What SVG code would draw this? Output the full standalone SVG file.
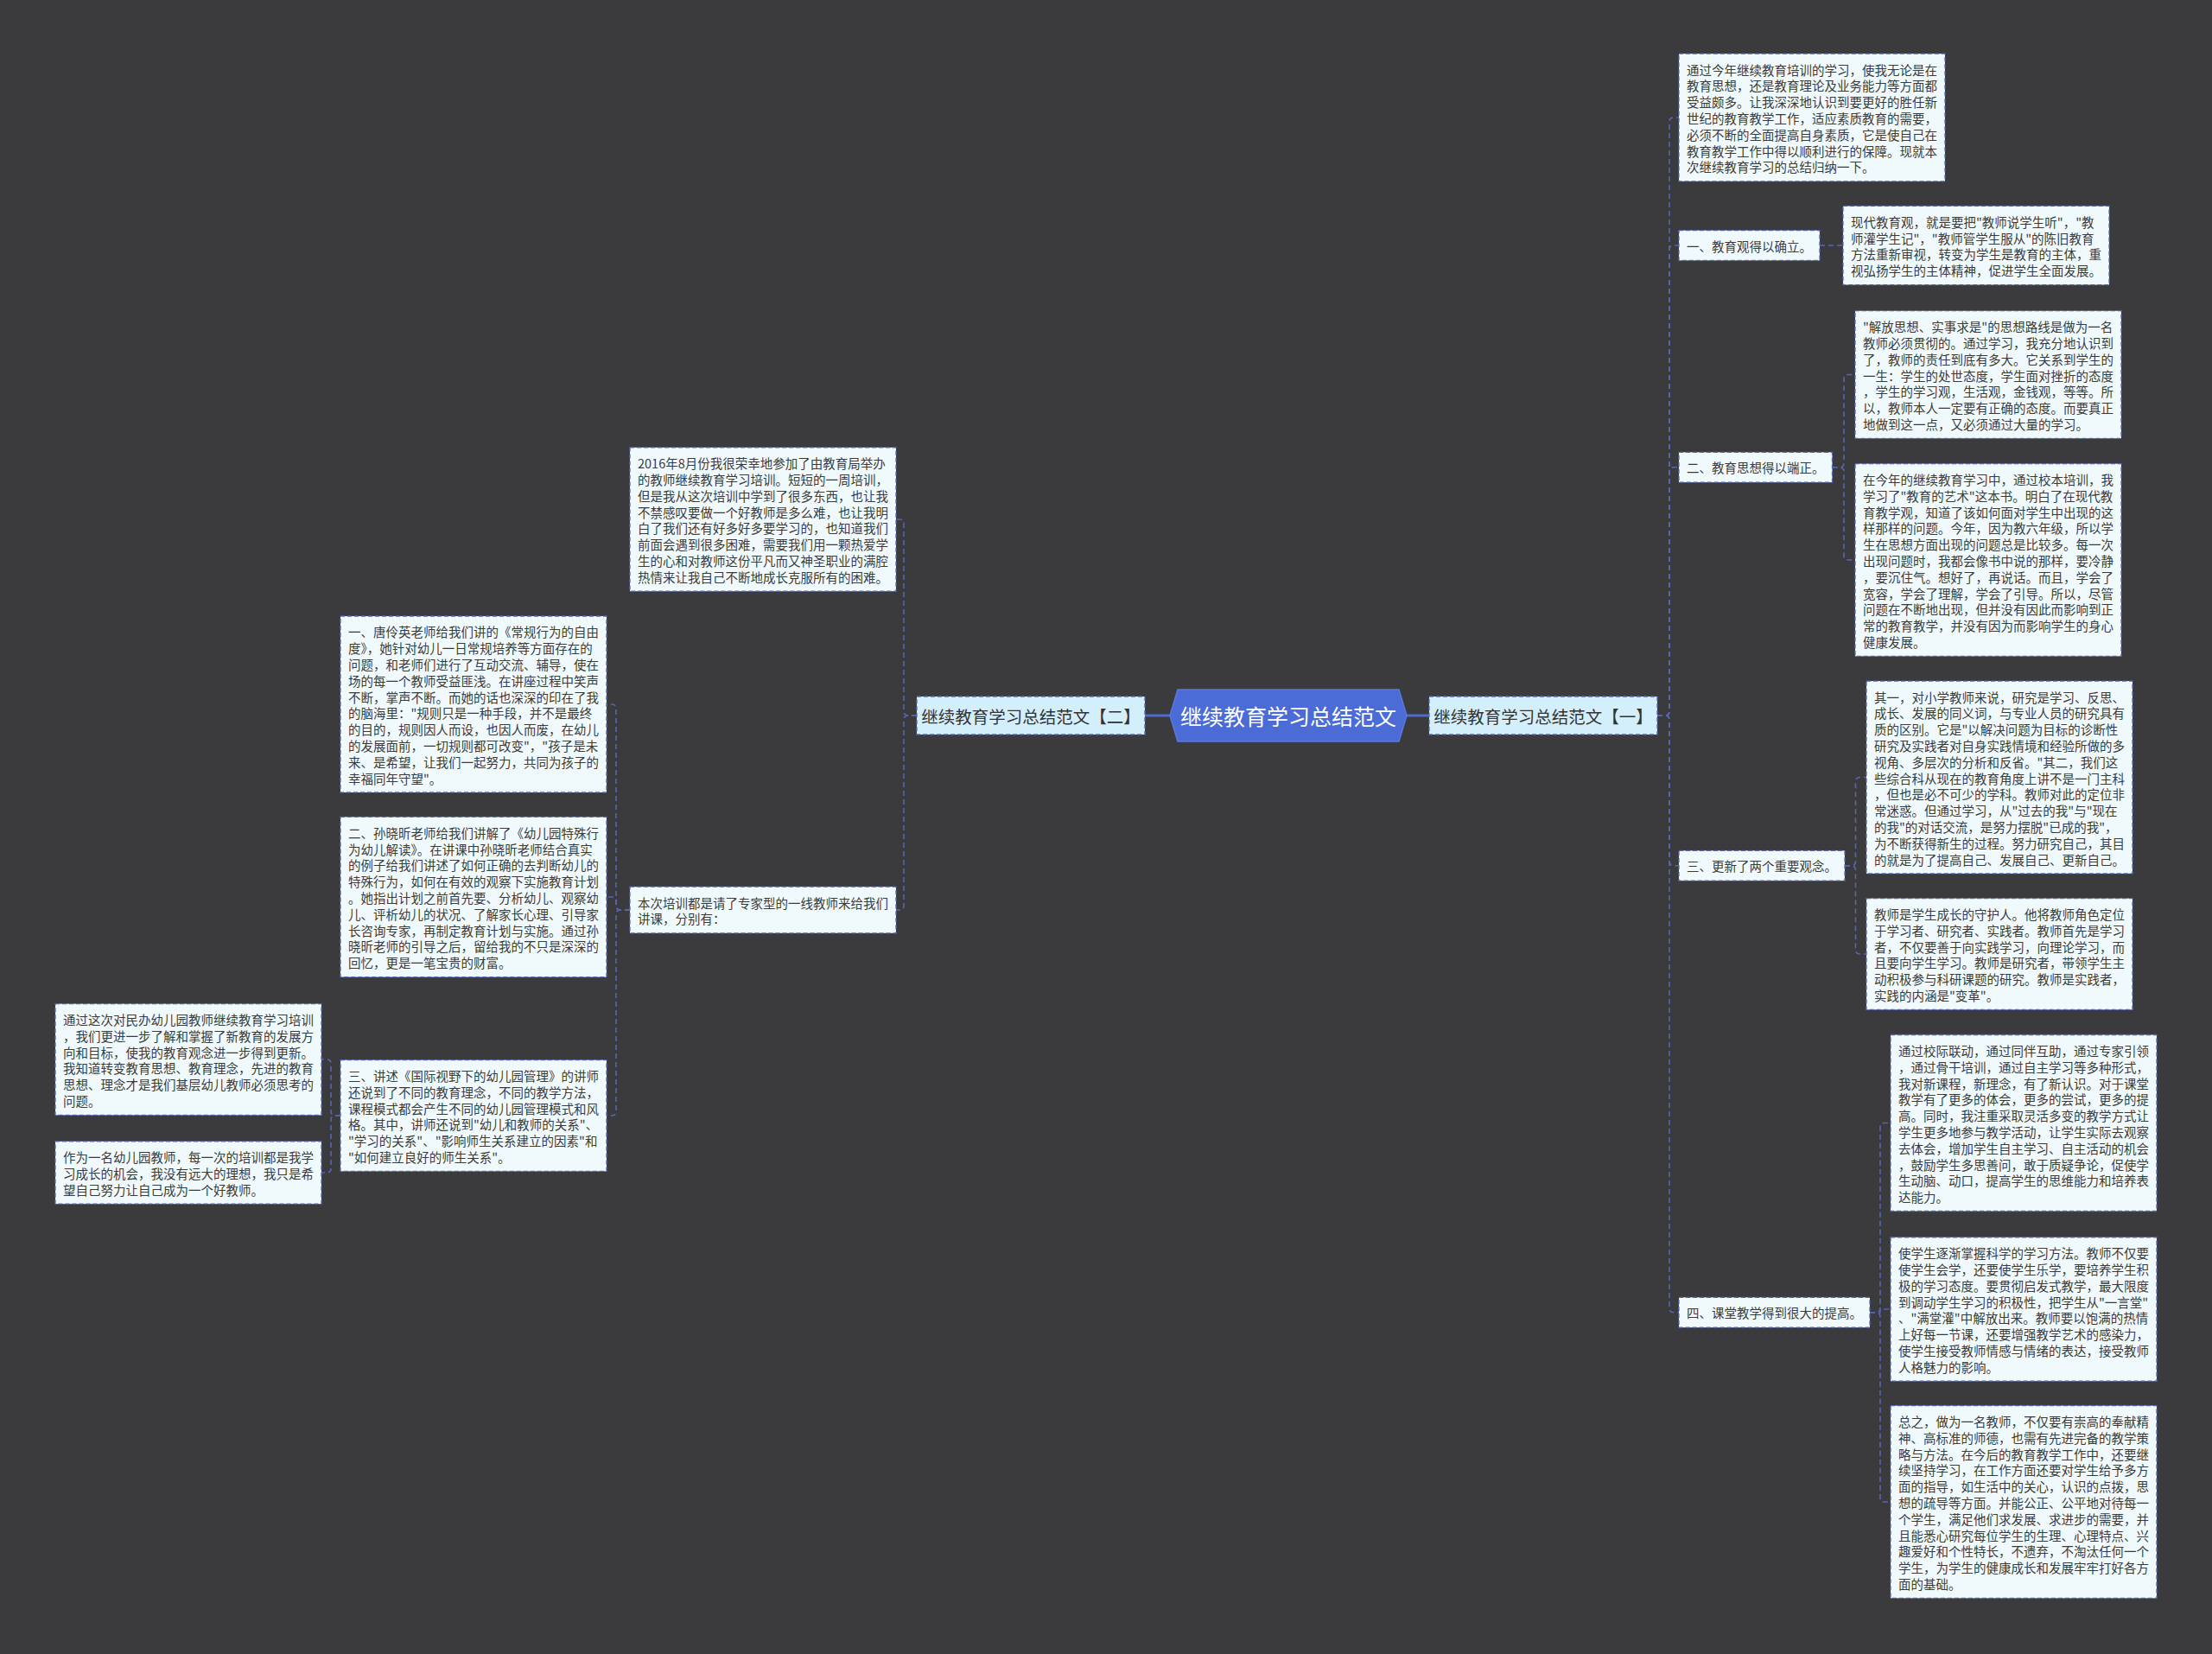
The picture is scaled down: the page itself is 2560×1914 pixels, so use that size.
<svg xmlns="http://www.w3.org/2000/svg" width="2560" height="1914" viewBox="0 0 2560 1914">
<style>
text{font-family:"Noto Sans CJK SC","Noto Sans",sans-serif;dominant-baseline:central;}
.box{fill:#f0fafd;stroke:#5567b4;stroke-width:1.3;stroke-dasharray:5 3;}
.t{font-size:14.5px;fill:#3a3a3a;}
.l1{fill:#d3effb;stroke:#5567b4;stroke-width:1.3;stroke-dasharray:5 3;}
.l1t{font-size:19.5px;fill:#333;text-anchor:middle;}
.ct{font-size:25px;fill:#ffffff;text-anchor:middle;}
.dash{fill:none;stroke:#5567b4;stroke-width:1.6;stroke-dasharray:6 4;}
.solid{fill:none;stroke:#4e6cd0;stroke-width:3;}
</style>
<rect width="2560" height="1914" fill="#3b3a3c"/>
<g id="connectors">
<path class="solid" d="M1626 828 H1654"/>
<path class="solid" d="M1325 828 H1355"/>
<path class="dash" d="M1918 828 H1927 Q1932 828 1932 823 V141 Q1932 136 1937 136 H1943"/>
<path class="dash" d="M1918 828 H1927 Q1932 828 1932 823 V289 Q1932 284 1937 284 H1943"/>
<path class="dash" d="M1918 828 H1927 Q1932 828 1932 823 V545.75 Q1932 540.75 1937 540.75 H1943"/>
<path class="dash" d="M1918 828 H1927 Q1932 828 1932 833 V996.75 Q1932 1001.75 1937 1001.75 H1943"/>
<path class="dash" d="M1918 828 H1927 Q1932 828 1932 833 V1513.75 Q1932 1518.75 1937 1518.75 H1943"/>
<path class="dash" d="M2106 284 H2133"/>
<path class="dash" d="M2120.5 540.75 H2129 Q2134 540.75 2134 535.75 V438.5 Q2134 433.5 2139 433.5 H2147"/>
<path class="dash" d="M2120.5 540.75 H2129 Q2134 540.75 2134 545.75 V643 Q2134 648 2139 648 H2147"/>
<path class="dash" d="M2135 1001.75 H2142.5 Q2147.5 1001.75 2147.5 996.75 V904.5 Q2147.5 899.5 2152.5 899.5 H2160"/>
<path class="dash" d="M2135 1001.75 H2142.5 Q2147.5 1001.75 2147.5 1006.75 V1099 Q2147.5 1104 2152.5 1104 H2160"/>
<path class="dash" d="M2164 1518.75 H2171 Q2176 1518.75 2176 1513.75 V1304.5 Q2176 1299.5 2181 1299.5 H2188"/>
<path class="dash" d="M2164 1518.75 H2176 V1515 H2188"/>
<path class="dash" d="M2164 1518.75 H2171 Q2176 1518.75 2176 1523.75 V1733 Q2176 1738 2181 1738 H2188"/>
<path class="dash" d="M1061 828 H1051 Q1046 828 1046 823 V606 Q1046 601 1041 601 H1037"/>
<path class="dash" d="M1061 828 H1051 Q1046 828 1046 833 V1048 Q1046 1053 1041 1053 H1037"/>
<path class="dash" d="M729 1053 H718 Q713 1053 713 1048 V820 Q713 815 708 815 H702"/>
<path class="dash" d="M729 1053 H718 Q713 1053 713 1048 V1043 Q713 1038 708 1038 H702"/>
<path class="dash" d="M729 1053 H718 Q713 1053 713 1058 V1286 Q713 1291 708 1291 H702"/>
<path class="dash" d="M394 1291 H388 Q383 1291 383 1286 V1231 Q383 1226 378 1226 H372"/>
<path class="dash" d="M394 1291 H388 Q383 1291 383 1296 V1352 Q383 1357 378 1357 H372"/>
</g>
<g id="center">
<polygon points="1354,828 1363,798 1619,798 1628,828 1619,858 1363,858" fill="#4b6bd6" stroke="#5a78e0" stroke-width="1.5"/>
<text class="ct" x="1491" y="828">继续教育学习总结范文</text>
</g>
<g id="branch1">
<rect class="l1" x="1654" y="806" width="264" height="44"/>
<text class="l1t" x="1786" y="828">继续教育学习总结范文【一】</text>
</g>
<g id="branch2">
<rect class="l1" x="1061" y="806" width="264" height="44"/>
<text class="l1t" x="1193" y="828">继续教育学习总结范文【二】</text>
</g>
<g id="n1">
<rect class="box" x="1943" y="62.2" width="308" height="147.6"/>
<text class="t" x="1952" y="79.6"><tspan x="1952" dy="0">通过今年继续教育培训的学习，使我无论是在</tspan><tspan x="1952" dy="18.8">教育思想，还是教育理论及业务能力等方面都</tspan><tspan x="1952" dy="18.8">受益颇多。让我深深地认识到要更好的胜任新</tspan><tspan x="1952" dy="18.8">世纪的教育教学工作，适应素质教育的需要，</tspan><tspan x="1952" dy="18.8">必须不断的全面提高自身素质，它是使自己在</tspan><tspan x="1952" dy="18.8">教育教学工作中得以顺利进行的保障。现就本</tspan><tspan x="1952" dy="18.8">次继续教育学习的总结归纳一下。</tspan></text>
</g>
<g id="n2">
<rect class="box" x="1943" y="266.6" width="163" height="34.8"/>
<text class="t" x="1952" y="284">一、教育观得以确立。</text>
</g>
<g id="n2c">
<rect class="box" x="2133" y="238.4" width="308" height="91.2"/>
<text class="t" x="2142" y="255.8"><tspan x="2142" dy="0">现代教育观，就是要把"教师说学生听"，"教</tspan><tspan x="2142" dy="18.8">师灌学生记"，"教师管学生服从"的陈旧教育</tspan><tspan x="2142" dy="18.8">方法重新审视，转变为学生是教育的主体，重</tspan><tspan x="2142" dy="18.8">视弘扬学生的主体精神，促进学生全面发展。</tspan></text>
</g>
<g id="n3">
<rect class="box" x="1943" y="523.35" width="177.5" height="34.8"/>
<text class="t" x="1952" y="540.75">二、教育思想得以端正。</text>
</g>
<g id="n3a">
<rect class="box" x="2147" y="359.7" width="308" height="147.6"/>
<text class="t" x="2156" y="377.1"><tspan x="2156" dy="0">"解放思想、实事求是"的思想路线是做为一名</tspan><tspan x="2156" dy="18.8">教师必须贯彻的。通过学习，我充分地认识到</tspan><tspan x="2156" dy="18.8">了，教师的责任到底有多大。它关系到学生的</tspan><tspan x="2156" dy="18.8">一生：学生的处世态度，学生面对挫折的态度</tspan><tspan x="2156" dy="18.8">，学生的学习观，生活观，金钱观，等等。所</tspan><tspan x="2156" dy="18.8">以，教师本人一定要有正确的态度。而要真正</tspan><tspan x="2156" dy="18.8">地做到这一点，又必须通过大量的学习。</tspan></text>
</g>
<g id="n3b">
<rect class="box" x="2147" y="536.6" width="308" height="222.8"/>
<text class="t" x="2156" y="554"><tspan x="2156" dy="0">在今年的继续教育学习中，通过校本培训，我</tspan><tspan x="2156" dy="18.8">学习了"教育的艺术"这本书。明白了在现代教</tspan><tspan x="2156" dy="18.8">育教学观，知道了该如何面对学生中出现的这</tspan><tspan x="2156" dy="18.8">样那样的问题。今年，因为教六年级，所以学</tspan><tspan x="2156" dy="18.8">生在思想方面出现的问题总是比较多。每一次</tspan><tspan x="2156" dy="18.8">出现问题时，我都会像书中说的那样，要冷静</tspan><tspan x="2156" dy="18.8">，要沉住气。想好了，再说话。而且，学会了</tspan><tspan x="2156" dy="18.8">宽容，学会了理解，学会了引导。所以，尽管</tspan><tspan x="2156" dy="18.8">问题在不断地出现，但并没有因此而影响到正</tspan><tspan x="2156" dy="18.8">常的教育教学，并没有因为而影响学生的身心</tspan><tspan x="2156" dy="18.8">健康发展。</tspan></text>
</g>
<g id="n4">
<rect class="box" x="1943" y="984.35" width="192" height="34.8"/>
<text class="t" x="1952" y="1001.75">三、更新了两个重要观念。</text>
</g>
<g id="n4a">
<rect class="box" x="2160" y="788.1" width="308" height="222.8"/>
<text class="t" x="2169" y="805.5"><tspan x="2169" dy="0">其一，对小学教师来说，研究是学习、反思、</tspan><tspan x="2169" dy="18.8">成长、发展的同义词，与专业人员的研究具有</tspan><tspan x="2169" dy="18.8">质的区别。它是"以解决问题为目标的诊断性</tspan><tspan x="2169" dy="18.8">研究及实践者对自身实践情境和经验所做的多</tspan><tspan x="2169" dy="18.8">视角、多层次的分析和反省。"其二，我们这</tspan><tspan x="2169" dy="18.8">些综合科从现在的教育角度上讲不是一门主科</tspan><tspan x="2169" dy="18.8">，但也是必不可少的学科。教师对此的定位非</tspan><tspan x="2169" dy="18.8">常迷惑。但通过学习，从"过去的我"与"现在</tspan><tspan x="2169" dy="18.8">的我"的对话交流，是努力摆脱"已成的我"，</tspan><tspan x="2169" dy="18.8">为不断获得新生的过程。努力研究自己，其目</tspan><tspan x="2169" dy="18.8">的就是为了提高自己、发展自己、更新自己。</tspan></text>
</g>
<g id="n4b">
<rect class="box" x="2160" y="1039.6" width="308" height="128.8"/>
<text class="t" x="2169" y="1057"><tspan x="2169" dy="0">教师是学生成长的守护人。他将教师角色定位</tspan><tspan x="2169" dy="18.8">于学习者、研究者、实践者。教师首先是学习</tspan><tspan x="2169" dy="18.8">者，不仅要善于向实践学习，向理论学习，而</tspan><tspan x="2169" dy="18.8">且要向学生学习。教师是研究者，带领学生主</tspan><tspan x="2169" dy="18.8">动积极参与科研课题的研究。教师是实践者，</tspan><tspan x="2169" dy="18.8">实践的内涵是"变革"。</tspan></text>
</g>
<g id="n5">
<rect class="box" x="1943" y="1501.35" width="221" height="34.8"/>
<text class="t" x="1952" y="1518.75">四、课堂教学得到很大的提高。</text>
</g>
<g id="n5a">
<rect class="box" x="2188" y="1197.5" width="308" height="204"/>
<text class="t" x="2197" y="1214.9"><tspan x="2197" dy="0">通过校际联动，通过同伴互助，通过专家引领</tspan><tspan x="2197" dy="18.8">，通过骨干培训，通过自主学习等多种形式，</tspan><tspan x="2197" dy="18.8">我对新课程，新理念，有了新认识。对于课堂</tspan><tspan x="2197" dy="18.8">教学有了更多的体会，更多的尝试，更多的提</tspan><tspan x="2197" dy="18.8">高。同时，我注重采取灵活多变的教学方式让</tspan><tspan x="2197" dy="18.8">学生更多地参与教学活动，让学生实际去观察</tspan><tspan x="2197" dy="18.8">去体会，增加学生自主学习、自主活动的机会</tspan><tspan x="2197" dy="18.8">，鼓励学生多思善问，敢于质疑争论，促使学</tspan><tspan x="2197" dy="18.8">生动脑、动口，提高学生的思维能力和培养表</tspan><tspan x="2197" dy="18.8">达能力。</tspan></text>
</g>
<g id="n5b">
<rect class="box" x="2188" y="1431.8" width="308" height="166.4"/>
<text class="t" x="2197" y="1449.2"><tspan x="2197" dy="0">使学生逐渐掌握科学的学习方法。教师不仅要</tspan><tspan x="2197" dy="18.8">使学生会学，还要使学生乐学，要培养学生积</tspan><tspan x="2197" dy="18.8">极的学习态度。要贯彻启发式教学，最大限度</tspan><tspan x="2197" dy="18.8">到调动学生学习的积极性，把学生从"一言堂"</tspan><tspan x="2197" dy="18.8">、"满堂灌"中解放出来。教师要以饱满的热情</tspan><tspan x="2197" dy="18.8">上好每一节课，还要增强教学艺术的感染力，</tspan><tspan x="2197" dy="18.8">使学生接受教师情感与情绪的表达，接受教师</tspan><tspan x="2197" dy="18.8">人格魅力的影响。</tspan></text>
</g>
<g id="n5c">
<rect class="box" x="2188" y="1626.6" width="308" height="222.8"/>
<text class="t" x="2197" y="1644"><tspan x="2197" dy="0">总之，做为一名教师，不仅要有崇高的奉献精</tspan><tspan x="2197" dy="18.8">神、高标准的师德，也需有先进完备的教学策</tspan><tspan x="2197" dy="18.8">略与方法。在今后的教育教学工作中，还要继</tspan><tspan x="2197" dy="18.8">续坚持学习，在工作方面还要对学生给予多方</tspan><tspan x="2197" dy="18.8">面的指导，如生活中的关心，认识的点拨，思</tspan><tspan x="2197" dy="18.8">想的疏导等方面。并能公正、公平地对待每一</tspan><tspan x="2197" dy="18.8">个学生，满足他们求发展、求进步的需要，并</tspan><tspan x="2197" dy="18.8">且能悉心研究每位学生的生理、心理特点、兴</tspan><tspan x="2197" dy="18.8">趣爱好和个性特长，不遗弃，不淘汰任何一个</tspan><tspan x="2197" dy="18.8">学生，为学生的健康成长和发展牢牢打好各方</tspan><tspan x="2197" dy="18.8">面的基础。</tspan></text>
</g>
<g id="l1">
<rect class="box" x="729" y="517.8" width="308" height="166.4"/>
<text class="t" x="738" y="535.2"><tspan x="738" dy="0">2016年8月份我很荣幸地参加了由教育局举办</tspan><tspan x="738" dy="18.8">的教师继续教育学习培训。短短的一周培训，</tspan><tspan x="738" dy="18.8">但是我从这次培训中学到了很多东西，也让我</tspan><tspan x="738" dy="18.8">不禁感叹要做一个好教师是多么难，也让我明</tspan><tspan x="738" dy="18.8">白了我们还有好多好多要学习的，也知道我们</tspan><tspan x="738" dy="18.8">前面会遇到很多困难，需要我们用一颗热爱学</tspan><tspan x="738" dy="18.8">生的心和对教师这份平凡而又神圣职业的满腔</tspan><tspan x="738" dy="18.8">热情来让我自己不断地成长克服所有的困难。</tspan></text>
</g>
<g id="l2">
<rect class="box" x="729" y="1026.2" width="308" height="53.6"/>
<text class="t" x="738" y="1043.6"><tspan x="738" dy="0">本次培训都是请了专家型的一线教师来给我们</tspan><tspan x="738" dy="18.8">讲课，分别有：</tspan></text>
</g>
<g id="l2a">
<rect class="box" x="394" y="713" width="308" height="204"/>
<text class="t" x="403" y="730.4"><tspan x="403" dy="0">一、唐伶英老师给我们讲的《常规行为的自由</tspan><tspan x="403" dy="18.8">度》，她针对幼儿一日常规培养等方面存在的</tspan><tspan x="403" dy="18.8">问题，和老师们进行了互动交流、辅导，使在</tspan><tspan x="403" dy="18.8">场的每一个教师受益匪浅。在讲座过程中笑声</tspan><tspan x="403" dy="18.8">不断，掌声不断。而她的话也深深的印在了我</tspan><tspan x="403" dy="18.8">的脑海里："规则只是一种手段，并不是最终</tspan><tspan x="403" dy="18.8">的目的，规则因人而设，也因人而废，在幼儿</tspan><tspan x="403" dy="18.8">的发展面前，一切规则都可改变"，"孩子是未</tspan><tspan x="403" dy="18.8">来、是希望，让我们一起努力，共同为孩子的</tspan><tspan x="403" dy="18.8">幸福同年守望"。</tspan></text>
</g>
<g id="l2b">
<rect class="box" x="394" y="945.4" width="308" height="185.2"/>
<text class="t" x="403" y="962.8"><tspan x="403" dy="0">二、孙晓昕老师给我们讲解了《幼儿园特殊行</tspan><tspan x="403" dy="18.8">为幼儿解读》。在讲课中孙晓昕老师结合真实</tspan><tspan x="403" dy="18.8">的例子给我们讲述了如何正确的去判断幼儿的</tspan><tspan x="403" dy="18.8">特殊行为，如何在有效的观察下实施教育计划</tspan><tspan x="403" dy="18.8">。她指出计划之前首先要、分析幼儿、观察幼</tspan><tspan x="403" dy="18.8">儿、评析幼儿的状况、了解家长心理、引导家</tspan><tspan x="403" dy="18.8">长咨询专家，再制定教育计划与实施。通过孙</tspan><tspan x="403" dy="18.8">晓昕老师的引导之后，留给我的不只是深深的</tspan><tspan x="403" dy="18.8">回忆，更是一笔宝贵的财富。</tspan></text>
</g>
<g id="l2c">
<rect class="box" x="394" y="1226.6" width="308" height="128.8"/>
<text class="t" x="403" y="1244"><tspan x="403" dy="0">三、讲述《国际视野下的幼儿园管理》的讲师</tspan><tspan x="403" dy="18.8">还说到了不同的教育理念，不同的教学方法，</tspan><tspan x="403" dy="18.8">课程模式都会产生不同的幼儿园管理模式和风</tspan><tspan x="403" dy="18.8">格。其中，讲师还说到"幼儿和教师的关系"、</tspan><tspan x="403" dy="18.8">"学习的关系"、"影响师生关系建立的因素"和</tspan><tspan x="403" dy="18.8">"如何建立良好的师生关系"。</tspan></text>
</g>
<g id="l2c1">
<rect class="box" x="64" y="1161.6" width="308" height="128.8"/>
<text class="t" x="73" y="1179"><tspan x="73" dy="0">通过这次对民办幼儿园教师继续教育学习培训</tspan><tspan x="73" dy="18.8">，我们更进一步了解和掌握了新教育的发展方</tspan><tspan x="73" dy="18.8">向和目标，使我的教育观念进一步得到更新。</tspan><tspan x="73" dy="18.8">我知道转变教育思想、教育理念，先进的教育</tspan><tspan x="73" dy="18.8">思想、理念才是我们基层幼儿教师必须思考的</tspan><tspan x="73" dy="18.8">问题。</tspan></text>
</g>
<g id="l2c2">
<rect class="box" x="64" y="1320.8" width="308" height="72.4"/>
<text class="t" x="73" y="1338.2"><tspan x="73" dy="0">作为一名幼儿园教师，每一次的培训都是我学</tspan><tspan x="73" dy="18.8">习成长的机会，我没有远大的理想，我只是希</tspan><tspan x="73" dy="18.8">望自己努力让自己成为一个好教师。</tspan></text>
</g>
</svg>
